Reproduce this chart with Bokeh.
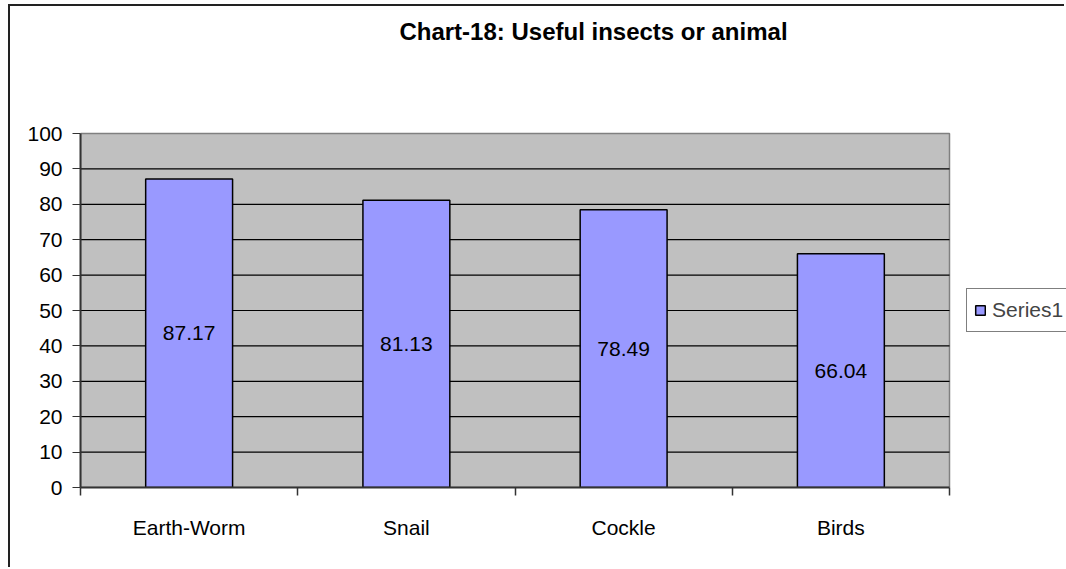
import numpy as np
from bokeh.plotting import figure
from bokeh.models import Range1d, FixedTicker, Legend, LegendItem, ColumnDataSource
from bokeh.core.properties import value
from bokeh.embed import file_html
from bokeh.resources import INLINE

categories = ["Earth-Worm", "Snail", "Cockle", "Birds"]
values = [87.17, 81.13, 78.49, 66.04]
y_ticks = [0, 10, 20, 30, 40, 50, 60, 70, 80, 90, 100]
series_name = "Series1"
title_text = "Chart-18: Useful insects or animal"

FONT = "Liberation Sans"
FS = "21px"

# layout (pixels inside the canvas)
W, H = 1056, 563
FL, FB = 70, 82            # frame left / bottom border
PLOT_R, PLOT_T = 939, 127  # right and top edge of the grey plot area
n = len(categories)
ymax = max(y_ticks)
px_per_y = (H - FB - PLOT_T) / ymax
px_per_x = (PLOT_R - FL) / n
x_end = (W - FL) / px_per_x
y_end = (H - FB) / px_per_y

xs = np.arange(n) + 0.5
src = ColumnDataSource(dict(
    x=xs, top=values, mid=[v / 2 for v in values],
    lbl=["%.2f" % v for v in values],
))

p = figure(width=W, height=H, output_backend="svg", toolbar_location=None,
           x_range=Range1d(0, x_end), y_range=Range1d(0, y_end),
           min_border_left=FL, min_border_right=0, min_border_top=0,
           min_border_bottom=FB)
p.styles = {"border-left": "2px solid #222", "border-top": "2px solid #222",
            "margin-left": "8px", "margin-top": "4px"}

p.background_fill_color = "white"
p.border_fill_color = "white"
p.outline_line_color = None
p.xgrid.visible = False
p.ygrid.visible = False

# grey plot area
p.quad(left=0, right=n, bottom=0, top=ymax, fill_color="#C0C0C0",
       line_color="#808080", line_width=1.5)
gy = y_ticks[1:-1]
p.segment(x0=[0] * len(gy), x1=[n] * len(gy), y0=gy, y1=gy,
          line_color="black", line_width=1.2)

r = p.vbar(x="x", top="top", width=0.4, source=src, fill_color="#9999FF",
           line_color="black", line_width=1.5)
p.text(x="x", y="mid", text="lbl", source=src, text_align="center",
       text_baseline="middle", text_font=value(FONT), text_font_size=FS,
       text_color="black")

# title
title_px_x, title_px_y = 583, 25
p.text(x=[(title_px_x - FL) / px_per_x], y=[(H - FB - title_px_y) / px_per_y],
       text=[title_text], text_align="center", text_baseline="middle",
       text_font=value(FONT), text_font_size="24px", text_font_style="bold",
       text_color="black")

# axes
p.yaxis.bounds = (0, ymax)
p.yaxis.ticker = FixedTicker(ticks=y_ticks)
p.yaxis.major_tick_out = 8
p.yaxis.major_tick_in = 0
p.yaxis.minor_tick_out = 0
p.yaxis.major_label_standoff = 10
p.yaxis.axis_line_color = "#333333"
p.yaxis.axis_line_width = 2
p.yaxis.major_tick_line_color = "#333333"
p.yaxis.major_label_text_font = FONT
p.yaxis.major_label_text_font_size = FS
p.yaxis.major_label_text_color = "black"

p.xaxis.bounds = (0, n)
p.xaxis.ticker = FixedTicker(ticks=list(xs), minor_ticks=list(range(n + 1)))
p.xaxis.major_label_overrides = {float(x): c for x, c in zip(xs, categories)}
p.xaxis.major_tick_out = 0
p.xaxis.major_tick_in = 0
p.xaxis.minor_tick_out = 8
p.xaxis.minor_tick_in = 0
p.xaxis.minor_tick_line_color = "#333333"
p.xaxis.minor_tick_line_width = 1.5
p.xaxis.major_label_standoff = 20
p.xaxis.axis_line_color = "#333333"
p.xaxis.axis_line_width = 2
p.xaxis.major_label_text_font = FONT
p.xaxis.major_label_text_font_size = FS
p.xaxis.major_label_text_color = "black"

legend = Legend(items=[LegendItem(label=series_name, renderers=[r])],
                location=(886, 155))
legend.border_line_color = "black"
legend.border_line_width = 1
legend.background_fill_color = "white"
legend.background_fill_alpha = 1
legend.label_text_font = FONT
legend.label_text_font_size = FS
legend.glyph_width = 12
legend.glyph_height = 12
legend.label_standoff = 6
legend.padding = 7
legend.margin = 0
legend.label_height = 28
p.add_layout(legend, "center")

open("out.html", "w").write(file_html(p, INLINE))
